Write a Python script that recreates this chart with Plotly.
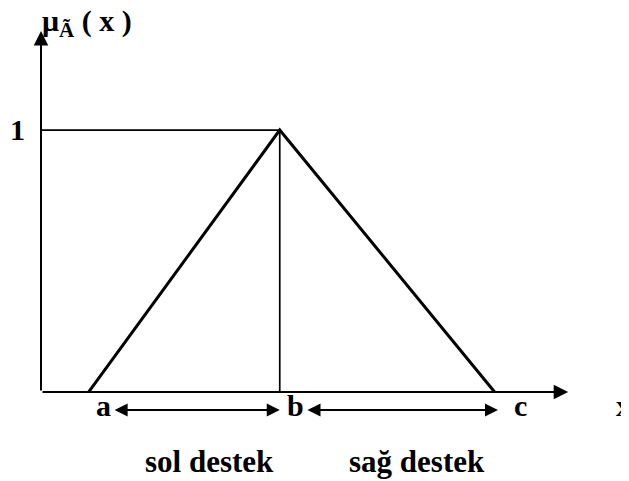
import plotly.graph_objects as go

# data (membership function of triangular fuzzy number)
point_names = ["a", "b", "c"]
point_values = [1.0, 5.0, 9.5]
membership = [0.0, 1.0, 0.0]
support_labels = ["sol destek", "sağ destek"]
y_tick_label = "1"
x_axis_label = "x"
y_axis_label = "<b>μ<sub>Ã</sub> ( x )</b>"

a, b, c = point_values
FONT = "Liberation Serif"
BLACK = "#000000"

fig = go.Figure()
fig.add_trace(go.Scatter(x=point_values, y=membership, mode="lines",
                         line=dict(color=BLACK, width=3), hoverinfo="skip"))

shapes = [
    dict(type="line", x0=0, x1=b, y0=1, y1=1, line=dict(color=BLACK, width=1.7)),
    dict(type="line", x0=b, x1=b, y0=0, y1=1, line=dict(color=BLACK, width=1.7)),
]

ann = []
# axes with arrows
ann.append(dict(x=11.04, y=0, ax=0, ay=0, axref="x", ayref="y", xref="x", yref="y",
                text="", showarrow=True, arrowhead=2, arrowsize=1.45, arrowwidth=2, arrowcolor=BLACK))
ann.append(dict(x=0, y=1.378, ax=0, ay=0, axref="x", ayref="y", xref="x", yref="y",
                text="", showarrow=True, arrowhead=2, arrowsize=1.45, arrowwidth=2, arrowcolor=BLACK))
# support double arrows
arrow_y = -0.069
ann.append(dict(x=b, y=arrow_y, ax=a + 0.51, ay=arrow_y, axref="x", ayref="y",
                text="", showarrow=True, arrowhead=2, startarrowhead=2, arrowside="end+start",
                arrowsize=1.3, startarrowsize=1.3, arrowwidth=2, arrowcolor=BLACK))
ann.append(dict(x=c + 0.07, y=arrow_y, ax=b + 0.55, ay=arrow_y, axref="x", ayref="y",
                text="", showarrow=True, arrowhead=2, startarrowhead=2, arrowside="end+start",
                arrowsize=1.3, startarrowsize=1.3, arrowwidth=2, arrowcolor=BLACK))

tf = dict(family=FONT, size=30, color=BLACK)
tf2 = dict(family=FONT, size=31, color=BLACK)
label_x = [a + 0.30, b + 0.34, c + 0.55]
for name, lx in zip(point_names, label_x):
    ann.append(dict(x=lx, y=-0.053, text=f"<b>{name}</b>", showarrow=False, font=tf))
ann.append(dict(x=12.2, y=-0.053, text=f"<b>{x_axis_label}</b>", showarrow=False, font=tf))
ann.append(dict(x=3.52, y=-0.267, text=f"<b>{support_labels[0]}</b>", showarrow=False, font=tf2))
ann.append(dict(x=7.87, y=-0.267, text=f"<b>{support_labels[1]}</b>", showarrow=False, font=tf2))
ann.append(dict(x=-0.49, y=1.004, text=f"<b>{y_tick_label}</b>", showarrow=False, font=tf))
ann.append(dict(x=-0.03, y=1.408, text=y_axis_label, showarrow=False, font=tf, xanchor="left"))

# page has an 8px body margin: the figure is sized/ranged so that the page matches
fig.update_layout(
    width=621, height=473, margin=dict(l=0, r=0, t=0, b=0),
    paper_bgcolor="white", plot_bgcolor="white", showlegend=False,
    xaxis=dict(range=[-0.691, 12.314], visible=False, fixedrange=True),
    yaxis=dict(range=[-0.340, 1.466], visible=False, fixedrange=True),
    shapes=shapes, annotations=ann,
)
fig.write_html("out.html")
